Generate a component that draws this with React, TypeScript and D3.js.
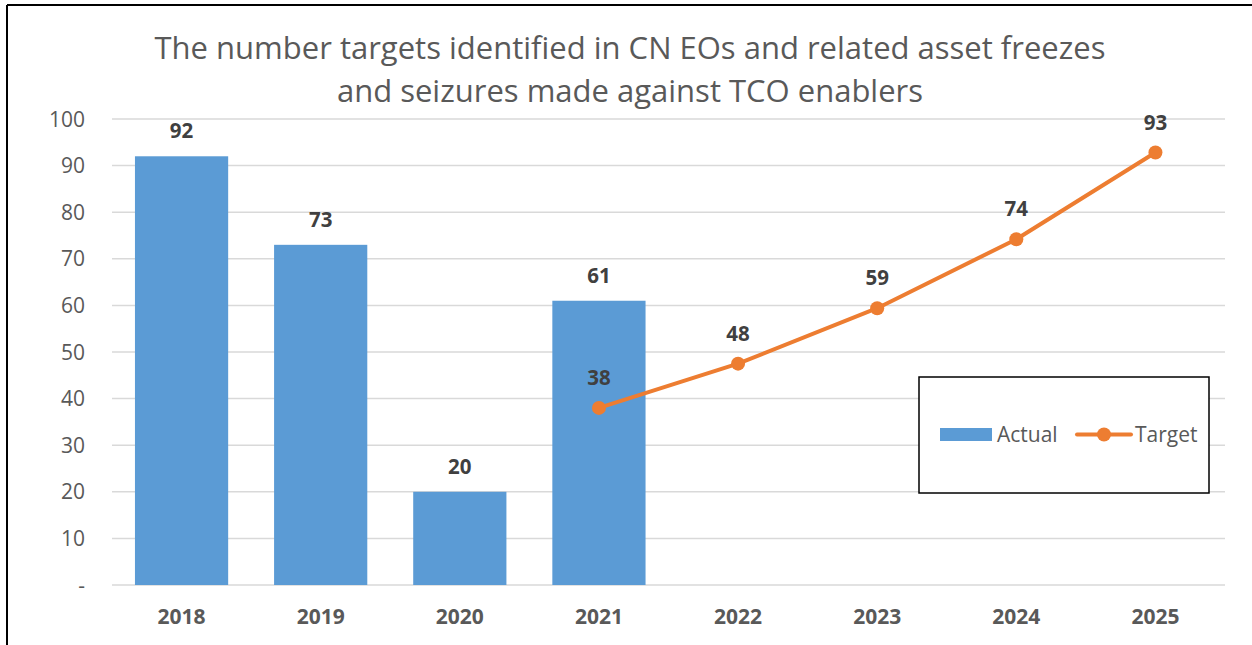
import React from "react";
import * as d3 from "d3";

const categories = ["2018", "2019", "2020", "2021", "2022", "2023", "2024", "2025"];
const actualYears = ["2018", "2019", "2020", "2021"];
const actualValues = [92, 73, 20, 61];
const targetYears = ["2021", "2022", "2023", "2024", "2025"];
const targetValues = [38, 47.5, 59.4, 74.2, 92.8];
const yTicks = [0, 10, 20, 30, 40, 50, 60, 70, 80, 90, 100];
const titleLines = [
  "The number targets identified in CN EOs and related asset freezes",
  "and seizures made against TCO enablers",
];

const W = 1252;
const H = 645;
const FONT = "'Open Sans', sans-serif";

export default function App() {
  const x = d3.scaleBand<string>().domain(categories).range([112, 1225]).paddingInner(0.33).paddingOuter(0.165);
  const xc = (c: string) => (x(c) as number) + x.bandwidth() / 2;
  const y = d3.scaleLinear().domain([0, 100]).range([585, 119]);
  const line = d3
    .line<number>()
    .x((_, i) => xc(targetYears[i]))
    .y((d) => y(d));

  return (
    <svg width={W} height={H} style={{ position: "absolute", left: 0, top: 0 }} fontFamily={FONT}>
      <rect x={0} y={0} width={W} height={H} fill="#fff" />
      {/* frame */}
      <line x1={7} y1={5} x2={W} y2={5} stroke="#000" strokeWidth={2} />
      <line x1={7} y1={5} x2={7} y2={H} stroke="#000" strokeWidth={2} />

      {/* title */}
      {titleLines.map((t, i) => (
        <text key={i} x={630} y={59 + i * 43} textAnchor="middle" fontSize={31} fill="#595959">
          {t}
        </text>
      ))}

      {/* gridlines */}
      {yTicks.map((t) => (
        <line key={t} x1={112} x2={1225} y1={y(t)} y2={y(t)} stroke="#d9d9d9" strokeWidth={1.5} />
      ))}
      {/* y tick labels */}
      {yTicks.map((t) => (
        <text key={t} x={85} y={y(t) + 7.5} textAnchor="end" fontSize={21} fill="#595959">
          {t === 0 ? "-" : t}
        </text>
      ))}

      {/* bars */}
      {actualValues.map((v, i) => (
        <rect
          key={i}
          x={x(actualYears[i])}
          y={y(v)}
          width={x.bandwidth()}
          height={y(0) - y(v)}
          fill="#5b9bd5"
        />
      ))}
      {actualValues.map((v, i) => (
        <text key={i} x={xc(actualYears[i])} y={y(v) - 18} textAnchor="middle" fontSize={20.5} fontWeight="bold" fill="#404040">
          {Math.round(v)}
        </text>
      ))}

      {/* target line */}
      <path d={line(targetValues) as string} fill="none" stroke="#ed7d31" strokeWidth={4} strokeLinejoin="round" />
      {targetValues.map((v, i) => (
        <circle key={i} cx={xc(targetYears[i])} cy={y(v)} r={7} fill="#ed7d31" />
      ))}
      {targetValues.map((v, i) => (
        <text key={i} x={xc(targetYears[i])} y={y(v) - 23} textAnchor="middle" fontSize={20.5} fontWeight="bold" fill="#404040">
          {Math.round(v)}
        </text>
      ))}

      {/* x labels */}
      {categories.map((c) => (
        <text key={c} x={xc(c)} y={624} textAnchor="middle" fontSize={21} fontWeight="bold" fill="#595959">
          {c}
        </text>
      ))}

      {/* legend */}
      <rect x={919} y={377} width={290} height={116} fill="#fff" stroke="#000" strokeWidth={1.5} />
      <rect x={940} y={428} width={52} height={13} fill="#5b9bd5" />
      <text x={997} y={442} fontSize={21} fill="#595959">Actual</text>
      <line x1={1077} x2={1131} y1={434.5} y2={434.5} stroke="#ed7d31" strokeWidth={4} strokeLinecap="round" />
      <circle cx={1104} cy={434.5} r={7} fill="#ed7d31" />
      <text x={1135} y={442} fontSize={21} fill="#595959">Target</text>
    </svg>
  );
}
